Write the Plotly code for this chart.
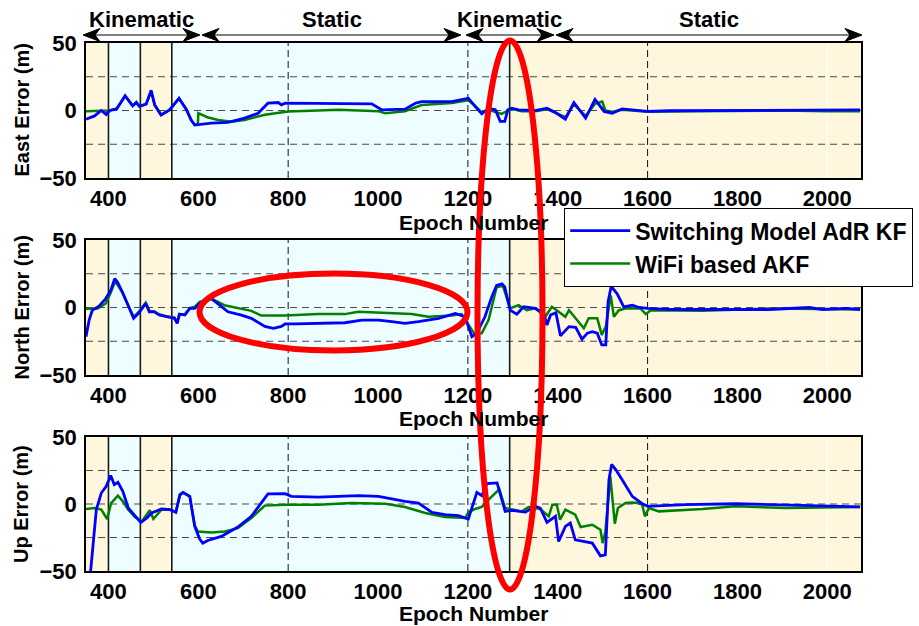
import plotly.graph_objects as go

W, H = 919, 626

# ---------------- error series: (epoch, error in metres) ----------------
east_sm = [(350, -6.4), (369, -4), (384, 0), (395, -3), (403, 0), (418, 1), (437, 11), (454, 3.4),
           (462, 6), (469, 3), (484, 4.7), (495, 15), (503, 4), (517, -3.4), (536, 0.5), (557, 9),
           (573, 1), (584, -7), (592, -10.8), (607, -10.3), (629, -9.3), (666, -8.8), (703, -5.6),
           (733, -2), (755, 5.4), (778, 5.9), (785, 4.2), (793, 5.4), (867, 5.4), (912, 5.1),
           (986, 4.9), (1008, 0.5), (1060, 1), (1083, 5.4), (1097, 6.6), (1164, 6.6), (1201, 9),
           (1216, 3), (1231, -2.5), (1246, 1.7), (1261, 0.5), (1272, -8), (1282, -8), (1289, 0.5),
           (1298, 1.7), (1313, 0.5), (1350, 0), (1376, 1.7), (1395, -1.5), (1417, -6.4), (1436, 5.9),
           (1462, -5.6), (1483, 8.3), (1503, -0.7), (1521, -2), (1543, 1.2), (1573, 0), (1600, -0.7),
           (1648, -0.2), (1796, 0), (1819, 0.5), (2073, 0.5)]

east_wifi = [(350, -0.5), (391, -0.5), (403, 0), (418, 1.5), (437, 10.5), (454, 3.5), (462, 6),
             (469, 3), (484, 5), (495, 14), (503, 4), (517, -3), (536, 0.5), (557, 9), (573, 1),
             (584, -7), (592, -10.5), (599, -10), (600, -2), (620, -5), (644, -7), (674, -8.3),
             (703, -7), (748, -3.2), (800, -0.7), (867, 0), (912, 0.5), (1001, -0.5), (1016, -2),
             (1060, -0.5), (1090, 3), (1097, 4), (1164, 5.5), (1201, 7.5), (1216, 3.5), (1231, -1.5),
             (1246, 0.5), (1261, -1), (1275, -2.5), (1290, 0), (1300, 1), (1320, -0.5), (1350, -0.5),
             (1376, 1), (1395, -2), (1417, -5), (1436, 4.5), (1462, -4), (1483, 5), (1499, 6.6),
             (1506, 0), (1521, -1), (1543, 0.5), (1573, -0.5), (1600, -1), (1700, -0.5), (1800, -0.3),
             (1830, 0.3), (1900, 0), (2000, -0.5), (2073, -0.5)]

north_sm = [(350, -21.6), (357, -9.3), (364, -2), (379, 1), (394, 6.6), (405, 12.7), (414, 21.3),
            (420, 18.9), (431, 11.5), (442, 3), (456, -8), (468, -4), (483, 3), (491, -3.2), (502, -3.2),
            (513, -5.6), (528, -6.9), (547, -8), (553, -11.8), (558, -4.9), (570, -5.6), (581, -0.7),
            (592, -0.7), (603, 3), (629, 6.6), (651, 0.5), (666, -3.2), (696, -5.6), (718, -8),
            (748, -14), (767, -15.4), (785, -14), (793, -12.2), (815, -12.2), (867, -11.8), (926, -11.3),
            (964, -9.3), (1001, -9.3), (1031, -10.5), (1060, -11.8), (1090, -10.5), (1135, -8),
            (1172, -4.4), (1194, -6.9), (1201, -14), (1209, -21.6), (1220, -19), (1238, -6.9),
            (1253, 7.8), (1264, 16.4), (1276, 17.6), (1282, 15.2), (1294, -2), (1309, -4.9), (1324, 0.5),
            (1350, -0.7), (1369, -4.4), (1376, -13), (1384, -5.6), (1396, -3.9), (1406, -21),
            (1425, -14.2), (1440, -14.7), (1454, -23.5), (1466, -19), (1477, -17.9), (1488, -19),
            (1498, -27.7), (1507, -27.7), (1512, 4.2), (1519, 15.7), (1532, 10.3), (1547, 0.5),
            (1566, 1.7), (1581, 0), (1600, -0.7), (1648, -1.5), (1871, -1.5), (1960, 0), (1990, -1.5),
            (2042, -0.7), (2073, -1.5)]

north_wifi = [(350, -1), (376, -0.7), (394, 3), (405, 11), (414, 18.9), (420, 17), (431, 11), (442, 3),
              (456, -7), (468, -3), (483, 3.5), (491, -2.5), (502, -3), (513, -5), (528, -6.5),
              (547, -7.5), (553, -11), (558, -5), (570, -5), (581, -0.5), (592, 0.5), (603, 4.2),
              (629, 6.6), (658, 1.7), (696, -0.7), (718, -2.5), (740, -6), (793, -6), (867, -4.9),
              (926, -4.9), (956, -3.2), (1016, -4), (1075, -4.9), (1112, -6.9), (1164, -6), (1186, -4.9),
              (1201, -13), (1216, -20.3), (1231, -19), (1246, -9.3), (1264, 15.2), (1278, 16),
              (1294, -0.7), (1313, 1.7), (1331, -2), (1350, -0.5), (1372, -6.9), (1387, 0.5),
              (1402, -3.2), (1417, -6.9), (1425, -2), (1440, -8), (1458, -15.4), (1469, -8), (1488, -8),
              (1498, -20.3), (1507, -14.2), (1518, 9), (1525, -6.9), (1536, -2), (1551, -0.7),
              (1584, -0.7), (1596, -4.9), (1607, -2), (1722, -2.5), (1871, -0.7), (2073, -1.5)]

up_sm = [(352, -80), (360, -50), (365, -29), (373, -4.2), (384, 8.2), (395, 13.2), (405, 21.2),
         (413, 14.5), (421, 16.2), (432, 9.5), (444, -3), (459, -9.2), (472, -13.7), (485, -10.5),
         (496, -6.7), (518, -3.7), (537, -4.2), (550, -6.2), (559, 7), (566, 8.7), (581, 5.7),
         (592, -16.7), (603, -26.2), (610, -29.2), (621, -27.2), (651, -24.2), (688, -17.2),
         (718, -9.2), (737, -0.5), (755, 7.5), (793, 7.7), (807, 5.7), (867, 5.2), (956, 6.2),
         (1001, 5.7), (1060, 2), (1090, 0.7), (1120, -6.2), (1149, -8), (1179, -8.7), (1201, -11.2),
         (1212, 0.7), (1220, 8.7), (1231, 6.2), (1242, 15.2), (1265, 15.7), (1283, -5.5), (1298, -4.7),
         (1328, -6), (1350, -1.7), (1361, -3), (1376, -13.7), (1395, -9.2), (1402, -28), (1417, -16.7),
         (1428, -14.2), (1439, -26.7), (1477, -29.2), (1495, -38.7), (1506, -38), (1514, 18.2),
         (1520, 29.5), (1529, 25.7), (1543, 18.2), (1566, 5.7), (1588, 0.2), (1600, -1.7), (1633, -1.2),
         (1685, -0.5), (1796, 0.2), (1945, -1.2), (2019, -2.2), (2073, -2.2)]

up_wifi = [(350, -3.7), (369, -3), (384, -4.2), (397, -11.2), (406, 0.7), (421, 6.2), (432, 2),
           (444, -4.2), (459, -9.7), (474, -13), (492, -4.7), (500, -11.2), (518, -4.2), (537, -4.2),
           (550, -6), (559, 6.5), (566, 8.5), (581, 5.5), (592, -16), (599, -20.5), (629, -21.2),
           (659, -20.5), (688, -18), (718, -10.5), (748, -1.2), (793, -0.5), (867, -0.5), (941, 0.7),
           (1016, 0.2), (1060, -2.2), (1105, -6.7), (1149, -9.7), (1194, -10.5), (1201, -6.2),
           (1216, -3.7), (1231, -2.2), (1250, 4.5), (1270, 11), (1283, -3), (1320, -5.5), (1335, -2.2),
           (1361, -3.7), (1380, -9.2), (1388, -0.5), (1398, -0.5), (1405, -11.7), (1417, -4.2),
           (1439, -8), (1451, -17.2), (1477, -15.5), (1495, -19.2), (1500, -29.2), (1506, -20.5),
           (1517, 20.7), (1527, -14.7), (1534, -3), (1551, 0.7), (1566, 1.2), (1577, 0.7), (1588, -0.5),
           (1594, -9.2), (1603, -3), (1625, -5.5), (1722, -3.7), (1796, -1.7), (1908, -3), (2073, -2.2)]

# motion-mode segments (start epoch, end epoch, mode)
mode_segments = [(350, 400, "static"), (400, 471, "kinematic"), (471, 541, "static"),
                 (541, 1293, "kinematic"), (1293, 2075, "static")]
mode_switches = [400, 471, 541, 1293]

# phase labels across the top (label, left px, right px)
phase_spans = [("Kinematic", 83, 200), ("Static", 202, 461), ("Kinematic", 466, 554), ("Static", 556, 862)]

x_ticks = [400, 600, 800, 1000, 1200, 1400, 1600, 1800, 2000]
y_ticks = [-50, 0, 50]
y_grid = [-25, 0, 25]
x_grid_dark = [800, 1200, 1600]
x_grid_light = [2000]
x_range = [350, 2075]
y_range = [-50, 50]

SM_NAME = "Switching Model AdR KF"
WIFI_NAME = "WiFi based AKF"
SM_COLOR = "#0000FF"
WIFI_COLOR = "#008000"
STATIC_FILL = "#FEF6DD"
KIN_FILL = "#EEFDFF"
FONT = "Liberation Sans"

panels = [("East Error (m)", east_sm, east_wifi, (43, 178), 222),
          ("North Error (m)", north_sm, north_wifi, (240, 375), 418),
          ("Up Error (m)", up_sm, up_wifi, (437, 571), 613)]

X0_PX, X1_PX = 86, 861

fig = go.Figure()
shapes = []
annotations = []


def pxx(p):
    return p / W


def pxy(p):
    return 1 - p / H


for i, (ytitle, sm, wifi, (top, bot), title_y) in enumerate(panels):
    n = "" if i == 0 else str(i + 1)
    xa, ya = "x" + n, "y" + n
    fig.add_trace(go.Scatter(x=[p[0] for p in wifi], y=[p[1] for p in wifi], mode="lines",
                             name=WIFI_NAME, line=dict(color=WIFI_COLOR, width=2.5),
                             xaxis=xa, yaxis=ya, showlegend=(i == 0), legendrank=2))
    fig.add_trace(go.Scatter(x=[p[0] for p in sm], y=[p[1] for p in sm], mode="lines",
                             name=SM_NAME, line=dict(color=SM_COLOR, width=2.8),
                             xaxis=xa, yaxis=ya, showlegend=(i == 0), legendrank=1))

    tickfont = dict(family=FONT, size=22, color="black", weight="bold")
    fig.layout["xaxis" + n] = dict(domain=[pxx(X0_PX), pxx(X1_PX)], anchor=ya, range=x_range,
                                   tickvals=x_ticks, ticks="", tickfont=tickfont, automargin=False,
                                   showgrid=False, zeroline=False, showline=True, mirror=True,
                                   linecolor="black", linewidth=1.5)
    fig.layout["yaxis" + n] = dict(domain=[pxy(bot), pxy(top)], anchor=xa, range=y_range,
                                   tickvals=y_ticks, ticks="outside", ticklen=3, automargin=False,
                                   tickcolor="rgba(0,0,0,0)", tickfont=tickfont,
                                   showgrid=False, zeroline=False, showline=True, mirror=True,
                                   linecolor="black", linewidth=1.5)

    # motion-mode background bands
    for s, e, mode in mode_segments:
        shapes.append(dict(type="rect", xref=xa, yref=ya, x0=s, x1=e, y0=y_range[0], y1=y_range[1],
                           fillcolor=STATIC_FILL if mode == "static" else KIN_FILL,
                           line=dict(width=0), layer="below"))
    # grid
    for g in y_grid:
        shapes.append(dict(type="line", xref=xa, yref=ya, x0=x_range[0], x1=x_range[1], y0=g, y1=g,
                           line=dict(color="#4a4a4a", width=1.2, dash="7px,5px"), layer="between"))
    for g in x_grid_dark:
        shapes.append(dict(type="line", xref=xa, yref=ya, x0=g, x1=g, y0=y_range[0], y1=y_range[1],
                           line=dict(color="#111111", width=1, dash="7px,4px"), layer="between"))
    for g in x_grid_light:
        shapes.append(dict(type="line", xref=xa, yref=ya, x0=g, x1=g, y0=y_range[0], y1=y_range[1],
                           line=dict(color="white", width=1.2), layer="between"))
    # mode switch markers
    for g in mode_switches:
        shapes.append(dict(type="line", xref=xa, yref=ya, x0=g, x1=g, y0=y_range[0], y1=y_range[1],
                           line=dict(color="#1a1a1a", width=1.6), layer="between"))

    # axis titles
    annotations.append(dict(text="<b>Epoch Number</b>", xref="paper", yref="paper",
                            x=pxx((X0_PX + X1_PX) / 2), y=pxy(title_y), showarrow=False,
                            xanchor="center", yanchor="middle",
                            font=dict(family=FONT, size=21, color="black")))
    annotations.append(dict(text="<b>%s</b>" % ytitle, xref="paper", yref="paper",
                            x=pxx(21), y=pxy((top + bot) / 2), showarrow=False, textangle=-90,
                            xanchor="center", yanchor="middle",
                            font=dict(family=FONT, size=20, color="black")))

# phase arrows along the top
ARROW_Y = 35
HEAD_L, HEAD_H, NOTCH = 17, 6.5, 5
for label, a, b in phase_spans:
    shapes.append(dict(type="line", xref="paper", yref="paper", x0=pxx(a + 4), x1=pxx(b - 4),
                       y0=pxy(ARROW_Y), y1=pxy(ARROW_Y), line=dict(color="black", width=1.2),
                       layer="above"))
    left = "M %f,%f L %f,%f L %f,%f L %f,%f Z" % (
        pxx(a), pxy(ARROW_Y), pxx(a + HEAD_L), pxy(ARROW_Y - HEAD_H),
        pxx(a + HEAD_L - NOTCH), pxy(ARROW_Y), pxx(a + HEAD_L), pxy(ARROW_Y + HEAD_H))
    right = "M %f,%f L %f,%f L %f,%f L %f,%f Z" % (
        pxx(b), pxy(ARROW_Y), pxx(b - HEAD_L), pxy(ARROW_Y - HEAD_H),
        pxx(b - HEAD_L + NOTCH), pxy(ARROW_Y), pxx(b - HEAD_L), pxy(ARROW_Y + HEAD_H))
    for path in (left, right):
        shapes.append(dict(type="path", xref="paper", yref="paper", path=path,
                           fillcolor="black", line=dict(color="black", width=1), layer="above"))
    annotations.append(dict(text="<b>%s</b>" % label, xref="paper", yref="paper",
                            x=pxx((a + b) / 2), y=pxy(20), showarrow=False,
                            xanchor="center", yanchor="middle",
                            font=dict(family=FONT, size=22, color="black")))

# highlight ellipses
shapes.append(dict(type="circle", xref="paper", yref="paper", x0=pxx(477.5), x1=pxx(542.5),
                   y0=pxy(589.5), y1=pxy(40.5), line=dict(color="#FF0000", width=6), layer="above"))
shapes.append(dict(type="circle", xref="paper", yref="paper", x0=pxx(199.5), x1=pxx(467.5),
                   y0=pxy(350.5), y1=pxy(273.5), line=dict(color="#FF0000", width=6), layer="above"))

fig.update_layout(
    width=W, height=H, margin=dict(l=0, r=0, t=0, b=0, autoexpand=False),
    paper_bgcolor="white", plot_bgcolor="white",
    shapes=shapes, annotations=annotations,
    showlegend=True,
    legend=dict(x=pxx(564), y=pxy(208), xanchor="left", yanchor="top",
                bgcolor="white", bordercolor="black", borderwidth=1.2,
                font=dict(family=FONT, size=23, color="black", weight="bold"),
                itemwidth=60, tracegroupgap=0),
)

fig.write_html("out.html")
